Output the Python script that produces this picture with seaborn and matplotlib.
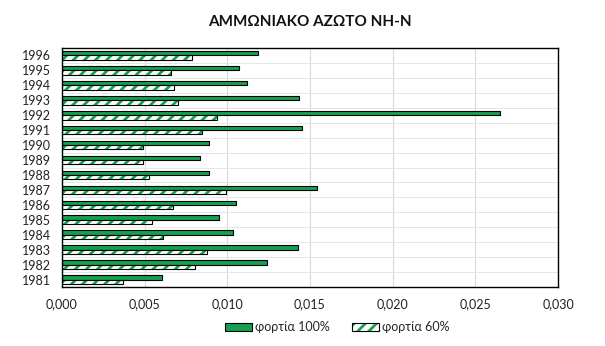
import matplotlib
matplotlib.use("Agg")
import matplotlib.pyplot as plt
import seaborn as sns
import pandas as pd
import numpy as np
from matplotlib.patches import Patch, Rectangle
from matplotlib.ticker import FuncFormatter, MultipleLocator, FixedLocator

years = ["1996", "1995", "1994", "1993", "1992", "1991", "1990", "1989",
         "1988", "1987", "1986", "1985", "1984", "1983", "1982", "1981"]
load_100 = [0.01187, 0.01068, 0.01117, 0.01436, 0.02652, 0.01449, 0.00887, 0.00832,
            0.00890, 0.01542, 0.01054, 0.00951, 0.01036, 0.01427, 0.01237, 0.00606]
load_60 = [0.00784, 0.00657, 0.00679, 0.00703, 0.00935, 0.00848, 0.00492, 0.00488,
           0.00528, 0.00993, 0.00673, 0.00542, 0.00609, 0.00875, 0.00806, 0.00371]
series_names = ["φορτία 100%", "φορτία 60%"]
title = "ΑΜΜΩΝΙΑΚΟ ΑΖΩΤΟ ΝΗ-Ν"

df = pd.DataFrame({
    "year": years * 2,
    "value": load_100 + load_60,
    "series": [series_names[0]] * len(years) + [series_names[1]] * len(years),
})

sns.set_theme(style="white")
plt.rcParams["font.family"] = ["Lato", "DejaVu Sans"]
plt.rcParams["hatch.linewidth"] = 2.0

green = "#14a050"
fig = plt.figure(figsize=(6.05, 3.46), dpi=100)
ax = fig.add_axes([62 / 605, 1 - 287 / 346, 496 / 605, 239 / 346])

sns.barplot(data=df, y="year", x="value", hue="series", order=years,
            hue_order=series_names, palette=[green, "white"], orient="h",
            width=0.58, ax=ax, legend=False, edgecolor="black", linewidth=0.8,
            saturation=1)

n = len(years)
for i, p in enumerate(list(ax.patches[:2 * n])):
    if i >= n:
        p.set_facecolor("white")
        p.set_hatch("///")
        p.set_edgecolor(green)
        p.set_linewidth(0)
        outline = Rectangle(p.get_xy(), p.get_width(), p.get_height(), fill=False,
                            edgecolor="black", linewidth=0.8, zorder=p.get_zorder() + 0.1)
        ax.add_patch(outline)

ax.set_xlim(0, 0.030)
ax.set_ylim(n - 0.5, -0.5)
ax.xaxis.set_major_locator(MultipleLocator(0.005))
ax.xaxis.set_major_formatter(FuncFormatter(lambda v, _: f"{v:.3f}".replace(".", ",")))
ax.yaxis.set_minor_locator(FixedLocator(np.arange(-0.5, n, 1.0)))
ax.grid(axis="x", which="major", color="#d9d9d9", linewidth=0.8)
ax.grid(axis="y", which="minor", color="#e6e6e6", linewidth=0.7)
ax.set_axisbelow(True)
for s in ax.spines.values():
    s.set_color("black")
    s.set_linewidth(1.0)
ax.set_xlabel("")
ax.set_ylabel("")
ax.tick_params(axis="both", which="both", labelsize=9, colors="#222222", length=0)
ax.tick_params(axis="x", pad=8)
ax.tick_params(axis="y", pad=8)
ax.set_title(title, fontsize=11, fontweight="bold", pad=16, color="#111111")

h1 = Patch(facecolor=green, edgecolor="black", linewidth=0.8)
h2 = (Patch(facecolor="white", edgecolor=green, hatch="///", linewidth=0),
      Patch(fill=False, edgecolor="black", linewidth=0.8))
fig.legend(handles=[h1, h2], labels=series_names, loc="center",
           bbox_to_anchor=(0.557, 1 - 327 / 346), ncol=2,
           frameon=False, fontsize=9, handlelength=2.2, handleheight=0.6, columnspacing=1.8,
           handletextpad=0.2)

fig.savefig("out.png", dpi=100)
